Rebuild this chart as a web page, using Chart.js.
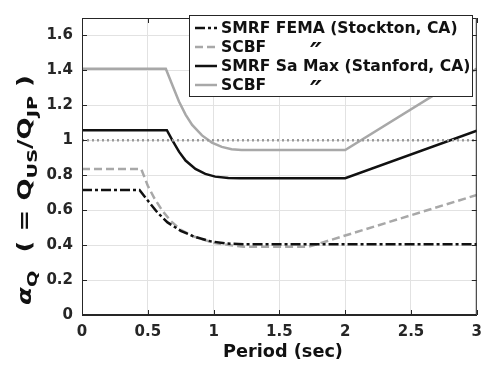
<!DOCTYPE html>
<html>
<head>
<meta charset="utf-8">
<script src="https://cdn.jsdelivr.net/npm/chart.js@4.4.0/dist/chart.umd.min.js"></script>
<style>
  html, body { margin: 0; padding: 0; background: #fff; }
</style>
</head>
<body>
<canvas id="chart" width="490" height="367"></canvas>
<script>
// values
var periodsSmrfFema = [0, 0.437, 0.5, 0.575, 0.65, 0.75, 0.85, 0.975, 1.1, 1.225, 3];
var alphaSmrfFema   = [0.716, 0.716, 0.655, 0.585, 0.530, 0.482, 0.449, 0.422, 0.409, 0.405, 0.405];

var periodsScbfFema = [0, 0.45, 0.5, 0.55, 0.612, 0.675, 0.75, 0.85, 1.0, 1.15, 1.225, 1.725, 3];
var alphaScbfFema   = [0.836, 0.836, 0.74, 0.668, 0.595, 0.538, 0.488, 0.449, 0.413, 0.397, 0.391, 0.391, 0.687];

var periodsSmrfMax  = [0, 0.645, 0.687, 0.737, 0.787, 0.862, 0.937, 1.012, 1.112, 1.2, 2.0, 3];
var alphaSmrfMax    = [1.058, 1.058, 1.0, 0.935, 0.884, 0.836, 0.808, 0.792, 0.784, 0.783, 0.783, 1.055];

var periodsScbfMax  = [0, 0.637, 0.687, 0.737, 0.787, 0.837, 0.912, 0.987, 1.062, 1.137, 1.212, 2.0, 3];
var alphaScbfMax    = [1.409, 1.409, 1.315, 1.222, 1.147, 1.088, 1.028, 0.987, 0.962, 0.949, 0.944, 0.944, 1.41];

var refPeriods = [0, 3];
var refAlpha   = [1, 1];

var legendLabels = ['SMRF FEMA (Stockton, CA)', 'SCBF', 'SMRF Sa Max (Stanford, CA)', 'SCBF'];
var legendDitto  = ['', '\u2033', '', '\u2033'];

var xTicks = [0, 0.5, 1, 1.5, 2, 2.5, 3];
var xTickLabels = ['0', '0.5', '1', '1.5', '2', '2.5', '3'];
var yTicks = [0, 0.2, 0.4, 0.6, 0.8, 1, 1.2, 1.4, 1.6];
var yTickLabels = ['0', '0.2', '0.4', '0.6', '0.8', '1', '1.2', '1.4', '1.6'];

var FONT = "'DejaVu Sans', sans-serif";
var INK = '#262626';

function pts(xs, ys) {
    return xs.map(function(x, i) { return {x: x, y: ys[i]}; });
}

// pick a font size so text spans the given width
function fitFont(ctx, text, width, style) {
    ctx.font = style + ' 20px ' + FONT;
    var w = ctx.measureText(text).width;
    return (20 * width / w).toFixed(1);
}

var extras = {
    id: 'extras',
    afterDatasetsDraw: function(chart) {
        var ctx = chart.ctx;
        var a = chart.chartArea;
        var xs = chart.scales.x, ys = chart.scales.y;
        ctx.save();

        // box and inward ticks
        ctx.strokeStyle = INK;
        ctx.lineWidth = 1;
        ctx.strokeRect(a.left + 0.5, a.top + 0.5, a.right - a.left - 1, a.bottom - a.top - 1);
        ctx.beginPath();
        xTicks.forEach(function(v) {
            var px = Math.round(xs.getPixelForValue(v)) + 0.5;
            ctx.moveTo(px, a.bottom); ctx.lineTo(px, a.bottom - 5);
            ctx.moveTo(px, a.top); ctx.lineTo(px, a.top + 5);
        });
        yTicks.forEach(function(v) {
            var py = Math.round(ys.getPixelForValue(v)) + 0.5;
            ctx.moveTo(a.left, py); ctx.lineTo(a.left + 5, py);
            ctx.moveTo(a.right, py); ctx.lineTo(a.right - 5, py);
        });
        ctx.stroke();

        // legend
        var bx = 189, by = 15, bw = 283, bh = 81;
        ctx.fillStyle = '#fff';
        ctx.fillRect(bx, by, bw, bh);
        ctx.strokeRect(bx + 0.5, by + 0.5, bw, bh);
        var fs = fitFont(ctx, legendLabels[0], 237, 'bold');
        ctx.textBaseline = 'middle';
        var rows = [28, 47, 66, 85];
        var sets = chart.data.datasets.slice(1);
        sets.forEach(function(ds, i) {
            var y = rows[i];
            ctx.strokeStyle = ds.borderColor;
            ctx.lineWidth = ds.borderWidth;
            ctx.setLineDash(ds.borderDash || []);
            ctx.beginPath();
            ctx.moveTo(195, y); ctx.lineTo(217, y);
            ctx.stroke();
            ctx.setLineDash([]);
            ctx.fillStyle = '#111';
            ctx.textAlign = 'left';
            ctx.font = 'bold ' + fs + 'px ' + FONT;
            ctx.fillText(legendLabels[i], 221, y + 1);
            if (legendDitto[i]) {
                ctx.font = 'italic bold ' + (fs * 1.7).toFixed(1) + 'px ' + FONT;
                ctx.fillText(legendDitto[i], 310, y + 8);
            }
        });

        // x title
        ctx.fillStyle = '#111';
        ctx.textAlign = 'center';
        ctx.textBaseline = 'middle';
        ctx.font = 'bold ' + fitFont(ctx, 'Period (sec)', 120, 'bold') + 'px ' + FONT;
        ctx.fillText('Period (sec)', 283, 352);

        // y title, rotated, with subscripts
        var parts = [
            {t: '\u03b1', sub: false, it: true},
            {t: 'Q', sub: true},
            {t: '  ( = ', sub: false},
            {t: 'Q', sub: false},
            {t: 'US', sub: true},
            {t: '/', sub: false},
            {t: 'Q', sub: false},
            {t: 'JP', sub: true},
            {t: ' )', sub: false}
        ];
        var main = 'bold 19px ' + FONT, small = 'bold 14px ' + FONT;
        var total = 0;
        parts.forEach(function(p) {
            ctx.font = (p.it ? 'italic ' : '') + (p.sub ? small : main);
            p.w = ctx.measureText(p.t).width;
            total += p.w;
        });
        var k = 230 / total;
        ctx.translate(24, 190);
        ctx.rotate(-Math.PI / 2);
        ctx.scale(k, 1);
        ctx.textAlign = 'left';
        ctx.textBaseline = 'alphabetic';
        var cx = -total / 2;
        parts.forEach(function(p) {
            ctx.font = (p.it ? 'italic ' : '') + (p.sub ? small : main);
            ctx.fillText(p.t, cx, p.sub ? 13 : 7);
            cx += p.w;
        });
        ctx.restore();
    }
};

var ctx = document.getElementById('chart').getContext('2d');
var chart = new Chart(ctx, {
    type: 'line',
    data: {
        datasets: [
            {data: pts(refPeriods, refAlpha), borderColor: '#9a9a9a', borderWidth: 2.5, borderDash: [2, 3]},
            {data: pts(periodsSmrfFema, alphaSmrfFema), borderColor: '#111111', borderWidth: 2.5, borderDash: [10, 3, 3, 3]},
            {data: pts(periodsScbfFema, alphaScbfFema), borderColor: '#a8a8a8', borderWidth: 2.5, borderDash: [8, 4]},
            {data: pts(periodsSmrfMax, alphaSmrfMax), borderColor: '#111111', borderWidth: 2.5},
            {data: pts(periodsScbfMax, alphaScbfMax), borderColor: '#a8a8a8', borderWidth: 2.5}
        ]
    },
    options: {
        responsive: false,
        animation: false,
        layout: {padding: {left: 0, right: 8, top: 4, bottom: 0}},
        elements: {point: {radius: 0}, line: {tension: 0, fill: false}},
        plugins: {legend: {display: false}, tooltip: {enabled: false}},
        scales: {
            x: {
                type: 'linear', min: 0, max: 3,
                afterBuildTicks: function(s) { s.ticks = xTicks.map(function(v) { return {value: v}; }); },
                afterFit: function(s) { s.height = 52; },
                ticks: {
                    padding: 8, color: INK, maxRotation: 0,
                    font: {family: FONT, size: 15, weight: 'bold'},
                    callback: function(v, i) { return xTickLabels[i]; }
                },
                grid: {color: '#e2e2e2', drawTicks: false},
                border: {display: true, color: INK}
            },
            y: {
                min: 0, max: 1.7,
                afterBuildTicks: function(s) { s.ticks = yTicks.map(function(v) { return {value: v}; }); },
                afterFit: function(s) { s.width = 82; },
                ticks: {
                    padding: 9, color: INK,
                    font: {family: FONT, size: 15, weight: 'bold'},
                    callback: function(v, i) { return yTickLabels[i]; }
                },
                grid: {color: '#e2e2e2', drawTicks: false},
                border: {display: true, color: INK}
            }
        }
    },
    plugins: [extras]
});
</script>
</body>
</html>
